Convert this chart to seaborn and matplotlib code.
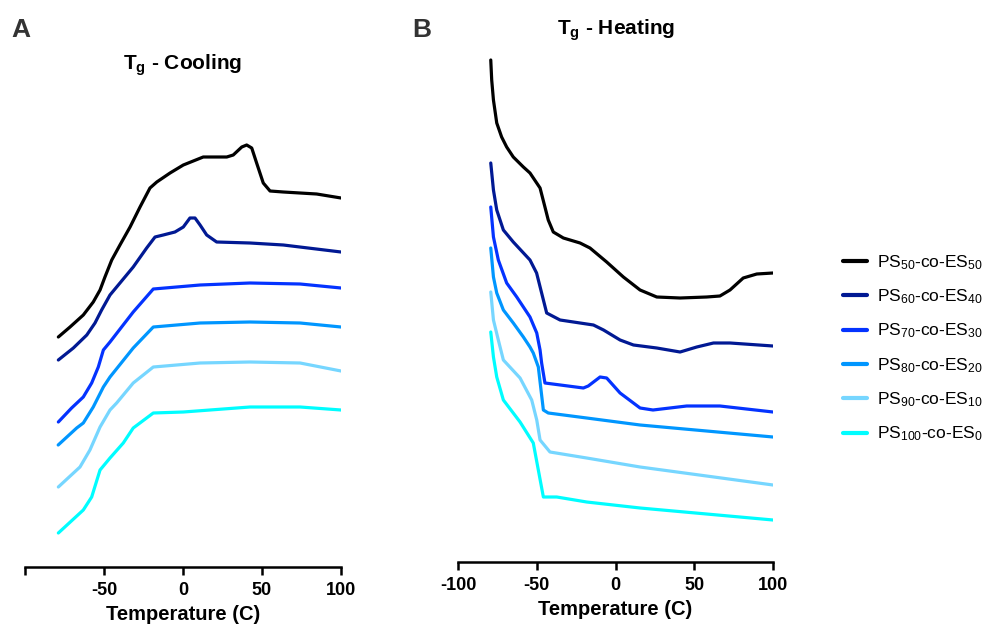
import matplotlib
matplotlib.use("Agg")
import matplotlib.pyplot as plt
from matplotlib.lines import Line2D
import pandas as pd
import seaborn as sns

# ---------------- data: DSC traces (temperature in C, heat flow in a.u., offset) ----------------
labels = [
    "PS$_{50}$-co-ES$_{50}$",
    "PS$_{60}$-co-ES$_{40}$",
    "PS$_{70}$-co-ES$_{30}$",
    "PS$_{80}$-co-ES$_{20}$",
    "PS$_{90}$-co-ES$_{10}$",
    "PS$_{100}$-co-ES$_{0}$",
]
colors = ["#000000", "#011993", "#0433FF", "#0096FF", "#76D6FF", "#00FDFF"]

# Cooling scans
cool_T_50 = [-78.9, -71.5, -63.1, -56.8, -52.5, -49.4, -45.1, -39.9, -33.5, -27.2, -20.9, -16.6, -8.2, 0.2,
             12.8, 27.7, 31.8, 37.2, 40.3, 43.5, 46.6, 50.8, 55.1, 63.5, 84.6, 100]
cool_v_50 = [2.63, 2.73, 2.85, 2.98, 3.10, 3.23, 3.40, 3.55, 3.73, 3.93, 4.12, 4.18, 4.27, 4.35,
             4.43, 4.43, 4.45, 4.53, 4.55, 4.52, 4.37, 4.17, 4.09, 4.08, 4.06, 4.02]
cool_T_60 = [-78.9, -69.4, -60.9, -55.7, -51.5, -46.2, -39.9, -31.5, -23, -17.7, -12.5, -5.1, 0.2, 4.4,
             7.6, 10.8, 15, 21.3, 42.4, 63.5, 100]
cool_v_60 = [2.40, 2.52, 2.65, 2.77, 2.90, 3.05, 3.17, 3.33, 3.52, 3.63, 3.65, 3.68, 3.73, 3.82,
             3.82, 3.75, 3.65, 3.58, 3.57, 3.55, 3.48]
cool_T_70 = [-78.9, -70.5, -63.1, -57.8, -53.6, -50.4, -46.2, -31.5, -18.8, 10.8, 42.4, 74.1, 100]
cool_v_70 = [1.78, 1.92, 2.03, 2.17, 2.33, 2.50, 2.58, 2.88, 3.11, 3.15, 3.17, 3.16, 3.12]
cool_T_80 = [-79, -67.3, -63.1, -56.8, -50.4, -46.2, -31.5, -18.8, 10.8, 42.4, 74.1, 100]
cool_v_80 = [1.55, 1.72, 1.77, 1.93, 2.13, 2.23, 2.52, 2.73, 2.77, 2.78, 2.77, 2.73]
cool_T_90 = [-78.9, -65.2, -58.9, -52.5, -46.2, -42, -31.5, -18.8, 10.8, 42.4, 74.1, 100]
cool_v_90 = [1.13, 1.33, 1.50, 1.73, 1.90, 1.97, 2.17, 2.33, 2.37, 2.38, 2.37, 2.29]
cool_T_100 = [-78.9, -63.1, -57.8, -52.5, -46.2, -37.8, -31.5, -18.8, 0.2, 42.4, 74.1, 100]
cool_v_100 = [0.67, 0.90, 1.03, 1.30, 1.42, 1.57, 1.72, 1.87, 1.88, 1.93, 1.93, 1.90]

# Heating scans
heat_T_50 = [-79.2, -78.6, -77.5, -75.4, -72.3, -69.1, -64.9, -58.5, -54.3, -47.9, -44.8, -42.7, -39.5,
             -33.1, -22.5, -16.2, -5.6, 5, 15.6, 26.2, 41, 57.9, 66.3, 72.7, 81.1, 89.7, 100]
heat_v_50 = [5.40, 5.20, 5.00, 4.77, 4.63, 4.53, 4.43, 4.33, 4.27, 4.12, 3.93, 3.80, 3.68,
             3.62, 3.57, 3.52, 3.38, 3.23, 3.10, 3.03, 3.02, 3.03, 3.04, 3.10, 3.22, 3.26, 3.27]
heat_T_60 = [-79.2, -77.5, -75.4, -71.2, -64.9, -54.3, -50.1, -46.9, -43.7, -35.2, -22.5, -14, -7.6,
             2.9, 11.4, 26.2, 41, 51.6, 62.2, 72.7, 100]
heat_v_60 = [4.37, 4.10, 3.90, 3.70, 3.58, 3.40, 3.27, 3.07, 2.87, 2.80, 2.77, 2.75, 2.70,
             2.60, 2.55, 2.52, 2.48, 2.53, 2.57, 2.57, 2.54]
heat_T_70 = [-79.2, -77.5, -74.4, -69.1, -62.7, -54.3, -50, -47.9, -46.9, -44.8, -20.4, -17.3, -9.8,
             -5.6, 2.9, 15.6, 23.8, 45.2, 66.3, 100]
heat_v_70 = [3.93, 3.63, 3.40, 3.17, 3.03, 2.83, 2.67, 2.50, 2.37, 2.17, 2.12, 2.14, 2.23,
             2.22, 2.07, 1.92, 1.90, 1.94, 1.94, 1.88]
heat_T_80 = [-79.2, -77.5, -75.4, -71.2, -64.9, -58.5, -54.3, -52.2, -49, -45.8, -42.7, -18.3, 15.6, 100]
heat_v_80 = [3.52, 3.23, 3.07, 2.90, 2.77, 2.63, 2.53, 2.47, 2.33, 1.90, 1.87, 1.82, 1.75, 1.63]
heat_T_90 = [-79.2, -77.5, -74.4, -71.2, -60.6, -53.2, -50, -47.9, -41.6, -18.3, 15.6, 100]
heat_v_90 = [3.08, 2.80, 2.60, 2.40, 2.22, 2.00, 1.80, 1.60, 1.48, 1.42, 1.33, 1.15]
heat_T_100 = [-79.2, -77.5, -75.4, -71.2, -60.6, -52.2, -49, -45.8, -37.3, -18.3, 15.6, 100]
heat_v_100 = [2.68, 2.43, 2.23, 2.00, 1.78, 1.57, 1.30, 1.03, 1.03, 0.98, 0.92, 0.80]

x_ticks = [-100, -50, 0, 50, 100]
cool_ticklabels = ["", "-50", "0", "50", "100"]
heat_ticklabels = ["-100", "-50", "0", "50", "100"]

cooling = [(cool_T_50, cool_v_50), (cool_T_60, cool_v_60), (cool_T_70, cool_v_70),
           (cool_T_80, cool_v_80), (cool_T_90, cool_v_90), (cool_T_100, cool_v_100)]
heating = [(heat_T_50, heat_v_50), (heat_T_60, heat_v_60), (heat_T_70, heat_v_70),
           (heat_T_80, heat_v_80), (heat_T_90, heat_v_90), (heat_T_100, heat_v_100)]


def to_frame(traces):
    rows = []
    for lab, (T, v) in zip(labels, traces):
        for t, y in zip(T, v):
            rows.append({"Temperature": t, "Heat flow": y, "Sample": lab})
    return pd.DataFrame(rows)


df_cool = to_frame(cooling)
df_heat = to_frame(heating)

# ---------------- style ----------------
sns.set_theme(style="white")
plt.rcParams["font.family"] = ["Liberation Sans", "DejaVu Sans"]
plt.rcParams["mathtext.fontset"] = "custom"
plt.rcParams["mathtext.rm"] = "Liberation Sans"
plt.rcParams["mathtext.bf"] = "Liberation Sans:bold"
plt.rcParams["mathtext.it"] = "Liberation Sans:italic"
plt.rcParams["mathtext.default"] = "regular"
plt.rcParams["text.color"] = "black"
plt.rcParams["axes.labelcolor"] = "black"
plt.rcParams["xtick.color"] = "black"

W, H = 986, 632
fig = plt.figure(figsize=(W / 100, H / 100), dpi=100)
palette = dict(zip(labels, colors))


def px_axes(left, right, top, bottom):
    return fig.add_axes([left / W, 1 - bottom / H, (right - left) / W, (bottom - top) / H])


ax_c = px_axes(25, 341, 40, 567)
ax_h = px_axes(458, 773, 40, 562)

for ax, df, ylim, ticklabels in [
    (ax_c, df_cool, (0.33, 5.60), cool_ticklabels),
    (ax_h, df_heat, (0.38, 5.60), heat_ticklabels),
]:
    sns.lineplot(data=df, x="Temperature", y="Heat flow", hue="Sample",
                 palette=palette, hue_order=labels, estimator=None, sort=False,
                 linewidth=2.3, legend=False, ax=ax)
    for line in ax.get_lines():
        line.set_solid_joinstyle("round")
        line.set_solid_capstyle("round")
    ax.set_xlim(-100, 100)
    ax.set_ylim(*ylim)
    ax.set_xticks(x_ticks)
    ax.set_xticklabels(ticklabels, fontsize=13, fontweight="bold")
    ax.set_yticks([])
    ax.set_ylabel("")
    ax.set_xlabel("Temperature (C)", fontsize=14.5, fontweight="bold", labelpad=4)
    for side in ["left", "top", "right"]:
        ax.spines[side].set_visible(False)
    ax.spines["bottom"].set_linewidth(1.8)
    ax.spines["bottom"].set_color("black")
    ax.tick_params(axis="x", direction="out", length=6, width=1.8, pad=5,
                   colors="black", bottom=True)
    ax.patch.set_alpha(0)

# titles and panel letters
fig.text(183 / W, 1 - 70 / H, r"$\mathbf{T_g}$ - Cooling", ha="center", va="baseline",
         fontsize=15, fontweight="bold")
fig.text(616 / W, 1 - 35 / H, r"$\mathbf{T_g}$ - Heating", ha="center", va="baseline",
         fontsize=15, fontweight="bold")
fig.text(11 / W, 1 - 37 / H, "A", ha="left", va="baseline", fontsize=19,
         fontweight="bold", color="#333333")
fig.text(412 / W, 1 - 37 / H, "B", ha="left", va="baseline", fontsize=19,
         fontweight="bold", color="#333333")

handles = [Line2D([0], [0], color=c, lw=3) for c in colors]
fig.legend(handles, labels, loc="upper left", bbox_to_anchor=(843 / W, 1 - 253 / H),
           frameon=False, fontsize=12.5, handlelength=1.38, handletextpad=0.6,
           labelspacing=0.9, borderpad=0, borderaxespad=0)

fig.savefig("out.png", dpi=100)
